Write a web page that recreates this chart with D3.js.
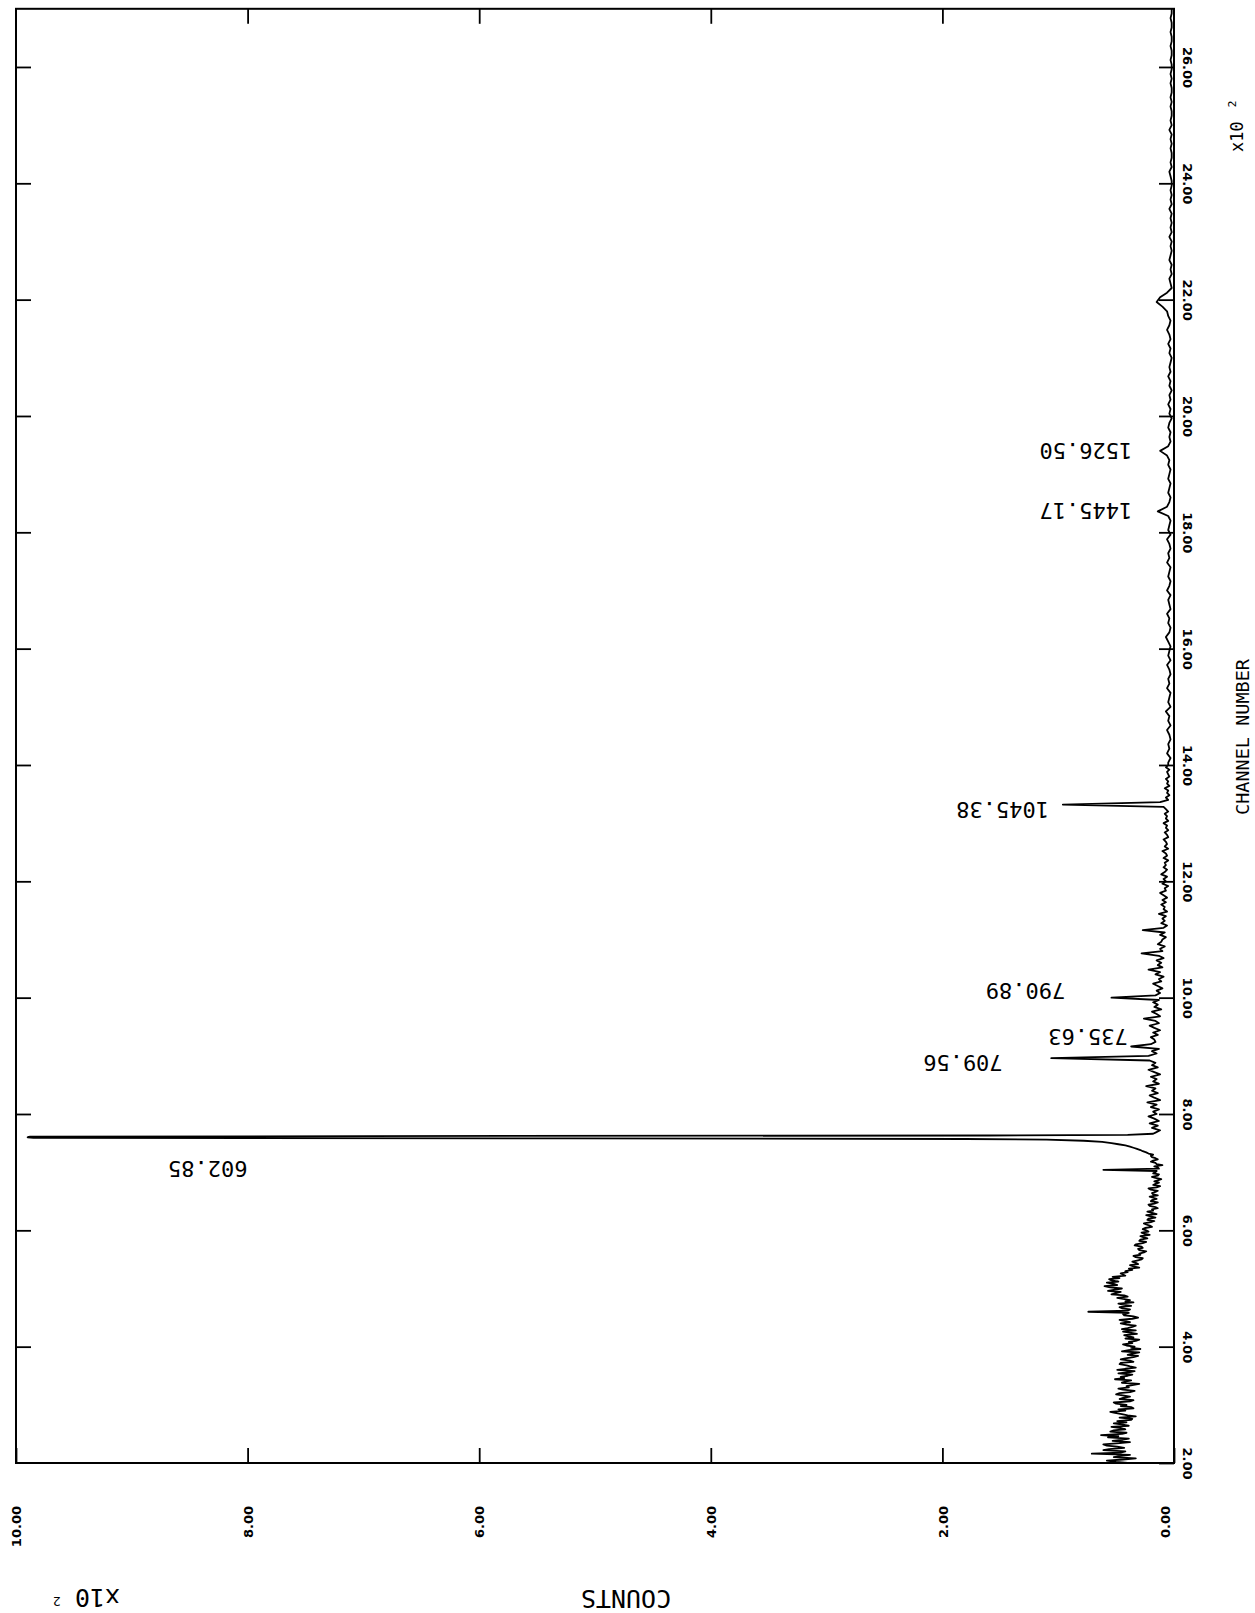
<!DOCTYPE html>
<html>
<head>
<meta charset="utf-8">
<script src="https://cdn.jsdelivr.net/npm/d3@7"></script>
<style>
body { margin: 0; background: #fff; }
svg { display: block; }
text { fill: #000; }
</style>
</head>
<body>
<script>
var width = 1255, height = 1613;

// spectrum, counts per channel
// low channels, every 2nd channel from 200
var lowStart = 200, lowStep = 2;
var lowCounts = [
  40, 50, 58, 44, 33, 52, 47, 38, 71, 46, 42, 61,
  56, 43, 49, 58, 61, 47, 38, 53, 44, 39, 57, 48, 63, 45, 41, 55, 52, 42,
  46, 54, 39, 44, 52, 41, 49, 37, 36, 47, 33, 40, 45, 51, 55, 42, 48, 35, 37, 46, 41, 50, 52, 38, 35, 47, 44, 38,
  43, 50, 47, 38, 34, 44, 48, 39, 41, 36, 30, 45, 42, 37, 51, 43, 46, 40, 36, 48, 39, 34, 49, 42, 33, 38, 41, 47, 46, 35,
  38, 46, 42, 35, 31, 40, 36, 30, 45, 39, 29, 37, 34, 41, 44, 36, 39, 33, 30, 42, 35, 40, 43, 32, 38, 44, 33, 45,
  40, 36, 33, 41, 46, 38, 42, 47, 36, 31, 35, 43, 44, 39, 74, 40, 38, 45, 47, 37, 43, 48, 35, 42, 38, 44, 49, 40, 43, 54,
  50, 46, 57, 51, 45, 55, 60, 49, 52, 58, 48, 54, 56, 47, 53, 42, 44, 46, 40, 42,
  36, 39, 30, 35, 38, 31, 33, 36,
  32, 28, 27, 33, 35, 29, 30, 26, 24, 30, 31, 27, 28, 34, 33, 27, 24, 30, 29, 23, 26, 29, 21, 25, 28, 22, 24, 27,
  25, 19, 21, 24, 26, 20, 17, 23, 22, 16, 20, 24, 15, 19, 23, 18, 19, 14, 16, 21, 22, 17, 14, 20, 19, 15, 18, 21, 14, 18,
  19, 16, 14, 20, 22, 15, 12, 18, 16, 13, 17, 14, 11, 16, 19, 14, 13, 18, 16, 15, 61, 13, 14, 17, 10, 15, 16, 20,
  18, 14, 16, 19, 20, 18, 22, 24, 27, 29, 32, 35,
  38, 42, 48, 54, 62, 78, 110
];
// the big 602.85 line
var mainPeakCh = [757, 758, 759, 760, 761, 762, 763, 764, 766];
var mainPeakCounts = [180, 520, 985, 990, 988, 700, 160, 40, 18];
// middle channels, every 4th from 768
var midStart = 768, midStep = 4;
var midCounts = [
  16, 12, 19, 14, 21, 13, 17, 22, 15,
  18, 13, 20, 15, 23, 12, 17, 21, 14, 19, 16, 24, 13, 18, 15, 20, 12, 17, 22, 14, 19, 16, 21,
  106, 22,
  15, 19, 13, 37, 20, 16,
  17, 20,
  14, 18, 12, 17, 21, 13, 16, 26, 12, 15, 19, 11, 17, 14, 18, 13,
  54, 16,
  12, 15, 10, 14, 18, 11, 13, 9, 16, 12, 22, 10, 14, 11, 15, 9, 13, 28, 10, 12, 8, 14, 11,
  10, 7, 12, 8, 27, 9, 6, 11, 8, 10, 7, 13, 6, 9, 8, 11,
  7, 10, 6, 9, 12, 7, 8, 5, 10, 7, 9, 6, 11, 8, 6, 9, 7,
  8, 5, 9, 6, 7, 10, 5, 8, 6, 7, 9, 5, 6, 8, 5, 7, 6, 9, 5, 7, 6, 8, 5, 7, 9,
  96, 12,
  5, 7, 4, 6, 5, 8, 4, 6, 5, 7, 4, 5, 6, 4, 7, 5
];
// high channels, every 8th from 1404
var highStart = 1404, highStep = 8;
var highCounts = [
  5, 3, 6, 4, 5, 3, 4, 6, 3, 5, 4, 7, 3, 5, 4, 3, 6, 4, 5, 3,
  4, 6, 3, 5, 4, 3, 5, 7, 4, 3, 5, 4, 6, 3, 4, 5, 3, 6, 4, 3,
  5, 4, 3, 6, 4, 5, 3, 4, 6, 3, 5, 4, 3, 5,
  14,
  6, 4, 3, 5, 4, 3, 5, 4, 3, 5, 4, 6,
  12,
  5, 3, 4, 3, 5, 4, 2, 4, 3, 5, 3, 4, 2, 4, 3, 5, 3, 4, 3, 2, 4, 3, 5, 3, 4, 6,
  4, 3, 5, 6,
  10, 15, 12, 6, 2, 3, 4, 2, 3, 2, 4, 3, 2, 3, 2, 4, 2, 3, 2, 3,
  2, 4, 2, 3, 2, 3, 2, 2, 3, 4, 2, 3, 2, 2, 3, 2, 3, 2, 4, 2,
  3, 2, 2, 3, 2, 3, 2, 2, 3, 2, 3, 2, 2, 3, 2, 2, 3, 2, 2, 3,
  2, 2, 3, 2, 2
];

// peak energy labels and where they sit (channel, counts of the text's end)
var peakLabels = ["602.85", "709.56", "735.63", "790.89", "1045.38", "1445.17", "1526.50"];
var labelChannel = [707, 888, 934, 1013, 1323, 1837, 1941];
var labelCount = [800, 148, 40, 94, 108, 36, 36];

var channelTicks = [200, 400, 600, 800, 1000, 1200, 1400, 1600, 1800, 2000, 2200, 2400, 2600];
var countTicks = [0, 200, 400, 600, 800, 1000];

var svg = d3.select("body").append("svg")
    .attr("width", width)
    .attr("height", height);

// counts run right to left, channels bottom to top
var x = d3.scaleLinear().domain([0, 1000]).range([1174, 16]);
var y = d3.scaleLinear().domain([200, 2700]).range([1463, 8.8]);

var points = [];
function addSegment(start, step, vals) {
    vals.forEach(function(v, i) { points.push([start + i * step, v]); });
}
addSegment(lowStart, lowStep, lowCounts);
mainPeakCh.forEach(function(c, i) { points.push([c, mainPeakCounts[i]]); });
addSegment(midStart, midStep, midCounts);
addSegment(highStart, highStep, highCounts);

var line = d3.line()
    .x(function(d) { return x(d[1]); })
    .y(function(d) { return y(d[0]); });

svg.append("path")
    .datum(points)
    .attr("d", line)
    .attr("fill", "none")
    .attr("stroke", "#000")
    .attr("stroke-width", 1.8)
    .attr("stroke-linejoin", "round");

// frame
svg.append("rect")
    .attr("x", x(1000)).attr("y", y(2700))
    .attr("width", x(0) - x(1000)).attr("height", y(200) - y(2700))
    .attr("fill", "none").attr("stroke", "#000").attr("stroke-width", 2);

var tickFmt = function(d) { return (d / 100).toFixed(2); };

// channel axis on the right, ticks pointing in
var gR = svg.append("g").attr("transform", "translate(" + x(0) + ",0)")
    .call(d3.axisRight(y).tickValues(channelTicks).tickSize(-15).tickFormat(tickFmt));
gR.select(".domain").remove();
gR.selectAll("text")
    .attr("x", null).attr("dy", null)
    .attr("text-anchor", "middle")
    .attr("transform", "translate(9,0) rotate(90)")
    .style("font", "bold 13px 'DejaVu Sans'");

var gL = svg.append("g").attr("transform", "translate(" + x(1000) + ",0)")
    .call(d3.axisLeft(y).tickValues(channelTicks.slice(1)).tickSize(-15).tickFormat(""));
gL.select(".domain").remove();

// counts axis at the bottom
var gB = svg.append("g").attr("transform", "translate(0," + y(200) + ")")
    .call(d3.axisBottom(x).tickValues(countTicks).tickSize(-15).tickFormat(tickFmt));
gB.select(".domain").remove();
gB.selectAll("text")
    .attr("y", null).attr("dy", "0.36em")
    .attr("text-anchor", "end")
    .attr("transform", function(d) { return "translate(" + (d === 0 ? -9 : 0) + ",43) rotate(-90)"; })
    .style("font", "bold 13px 'DejaVu Sans'");

var gT = svg.append("g").attr("transform", "translate(0," + y(2700) + ")")
    .call(d3.axisTop(x).tickValues(countTicks.slice(1, -1)).tickSize(-15).tickFormat(""));
gT.select(".domain").remove();

svg.selectAll(".tick line").attr("stroke", "#000").attr("stroke-width", 1.8);

// peak labels, upside down
svg.selectAll(".peak-label")
    .data(peakLabels)
    .enter().append("text")
    .attr("class", "peak-label")
    .attr("transform", function(d, i) {
        return "translate(" + x(labelCount[i]) + "," + y(labelChannel[i]) + ") rotate(180)";
    })
    .attr("text-anchor", "start")
    .attr("dominant-baseline", "central")
    .style("font", "22px 'DejaVu Sans Mono'")
    .text(function(d) { return d; });

// axis titles
svg.append("text")
    .attr("transform", "translate(1242,737) rotate(-90)")
    .attr("text-anchor", "middle")
    .attr("dominant-baseline", "central")
    .style("font", "18.5px 'DejaVu Sans Mono'")
    .text("CHANNEL NUMBER");

var xr = svg.append("text")
    .attr("transform", "translate(1243,152) rotate(-90)")
    .style("font", "17px 'DejaVu Sans Mono'");
xr.append("tspan").text("x10");
xr.append("tspan").attr("dx", 14).attr("dy", -7).style("font-size", "11px").text("2");

svg.append("text")
    .attr("transform", "translate(626,1598) rotate(180)")
    .attr("text-anchor", "middle")
    .attr("dominant-baseline", "central")
    .style("font", "25px 'DejaVu Sans Mono'")
    .text("COUNTS");

var xb = svg.append("text")
    .attr("transform", "translate(120,1589) rotate(180)")
    .style("font", "25px 'DejaVu Sans Mono'");
xb.append("tspan").text("x10");
xb.append("tspan").attr("dx", 14).attr("dy", -8).style("font-size", "13px").text("2");
</script>
</body>
</html>
